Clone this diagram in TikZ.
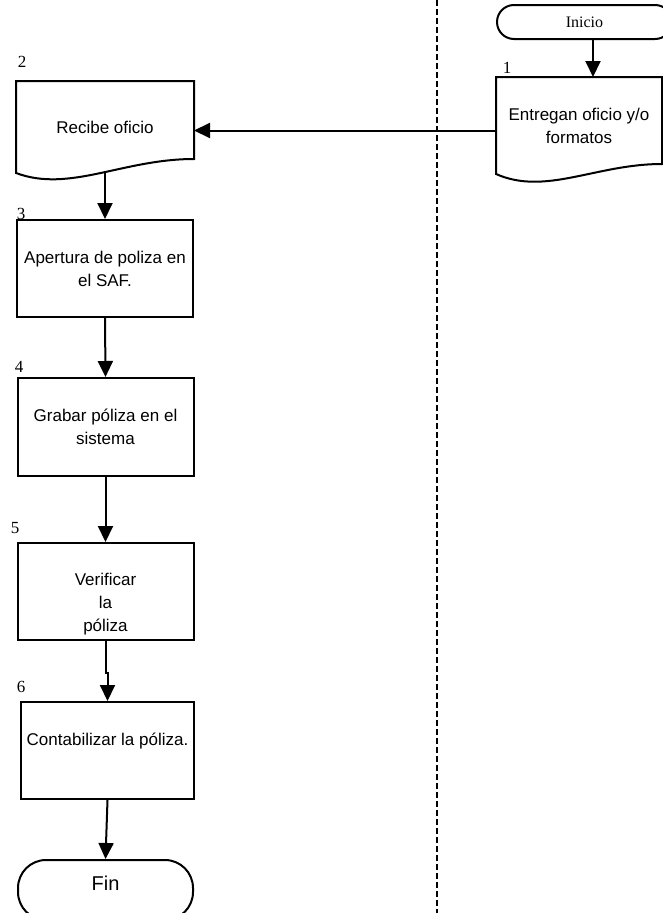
\documentclass[tikz,border=0pt]{standalone}
\usepackage{fontspec}
\setmainfont{Liberation Serif}
\newfontfamily\arial{Liberation Sans}
\usetikzlibrary{arrows.meta,calc,positioning}

\begin{document}
\begin{tikzpicture}[x=1pt,y=-1pt, every node/.style={inner sep=0pt},
    paso/.style={draw, line width=2pt, minimum width=176pt, minimum height=97pt, align=center, font=\arial\fontsize{17}{23}\selectfont},
    doc/.style={paso, draw=none},
    term/.style={draw, line width=2pt, minimum width=175pt, align=center},
    num/.style={font=\fontsize{17}{20}\selectfont},
    flecha/.style={line width=2pt, -{Triangle[width=15pt,length=16pt]}}]
\useasboundingbox (0,0) rectangle (663,913);
\clip (0,0) rectangle (663,913);

% carril
\draw[line width=1.8pt, dash pattern=on 6pt off 3pt] (437,0) -- (437,913);

\node[term, minimum height=34pt, rounded corners=17pt, font=\fontsize{16}{19}\selectfont] (inicio) at (584.5,22) {Inicio};
\node[doc, minimum width=164pt, minimum height=95pt] (entrega) at (579,125.5) {Entregan oficio y/o\\formatos};
\node[doc, minimum height=90pt] (recibe) at (105,127) {Recibe oficio};
\node[paso] (apertura) at (105,268.5) {Apertura de poliza en\\el SAF.};
\node[paso, minimum height=98pt] (grabar) at (105.5,427) {Grabar póliza en el\\sistema};
\node[paso] (verificar) at (105.5,591.5) {\mbox{}\\[14pt]Verificar\\la\\póliza};
\node[paso, minimum width=173pt] (contab) at (107.5,750.5) {Contabilizar la póliza.\\\mbox{}};
\node[term, minimum height=60pt, rounded corners=28pt, text depth=14pt, font=\arial\fontsize{20}{24}\selectfont] (fin) at (105.5,890) {Fin};

% numeros
\node[num] (n1) at (507,68) {1};
\node[num] (n2) at (22,62) {2};
\node[num] (n3) at (21,214) {3};
\node[num] (n4) at (19,367) {4};
\node[num] (n5) at (15,528) {5};
\node[num] (n6) at (21,687) {6};

% documentos
\draw[line width=2pt] (entrega.north west) -- (entrega.north east) -- ($(entrega.south east)+(0,-10)$)
    .. controls ($(entrega.south west)!0.6!(entrega.south east)+(0,-10)$) and ($(entrega.south west)!0.3!(entrega.south east)+(0,22)$) .. (entrega.south west) -- cycle;
\draw[line width=2pt] (recibe.north west) -- (recibe.north east) -- ($(recibe.south east)+(0,-14)$)
    .. controls ($(recibe.south west)!0.6!(recibe.south east)+(0,-14)$) and ($(recibe.south west)!0.3!(recibe.south east)+(0,20)$) .. (recibe.south west) -- cycle;

% flechas
\coordinate (c1) at ([xshift=8.5pt]inicio.south);
\coordinate (c2) at ([yshift=-5pt]entrega.west);
\draw[flecha] (c1) -- (c1 |- entrega.north);
\draw[flecha] (c2) -- (c2 -| recibe.east);
\draw[flecha] (recibe.south) -- (apertura.north);
\draw[flecha] (apertura.south) -- (grabar.north);
\draw[flecha] (grabar.south) -- (verificar.north);
\draw[flecha] (verificar.south) -- ++(0,32) -| (contab.north);
\draw[flecha] (contab.south) -- (fin.north);
\end{tikzpicture}
\end{document}
